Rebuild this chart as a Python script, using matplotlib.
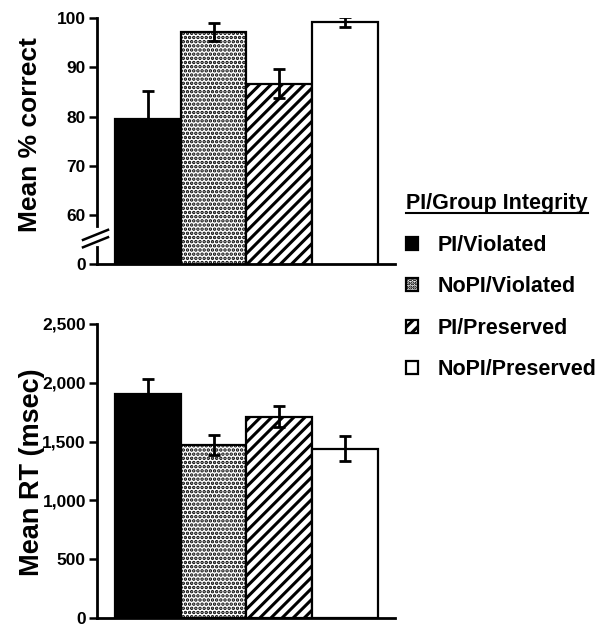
import matplotlib
matplotlib.use("Agg")
import matplotlib.pyplot as plt
from matplotlib.lines import Line2D

# ---- data ----
groups = ["PI/Violated", "NoPI/Violated", "PI/Preserved", "NoPI/Preserved"]
accuracy = [79.5, 97.2, 86.7, 99.3]
accuracy_err = [5.8, 1.8, 2.9, 1.0]
rt = [1906, 1468, 1711, 1440]
rt_err = [130, 85, 90, 105]
acc_ticks = [50, 60, 70, 80, 90, 100]
acc_ticklabels = ["0", "60", "70", "80", "90", "100"]
rt_ticks = [0, 500, 1000, 1500, 2000, 2500]
rt_ticklabels = ["0", "500", "1,000", "1,500", "2,000", "2,500"]
legend_title = "PI/Group Integrity"

plt.rcParams["font.family"] = ["Liberation Sans", "DejaVu Sans"]
plt.rcParams["font.weight"] = "bold"
plt.rcParams["hatch.linewidth"] = 2.2

W, H = 604, 625
fig = plt.figure(figsize=(W / 100, H / 100), dpi=100)

faces = ["black", "white", "white", "white"]
hatches = [None, "....", "///", None]
hatch_lw = [None, 1.7, 2.2, None]

def px_ax(x0, y_top, x1, y_bot):
    return [x0 / W, 1 - y_bot / H, (x1 - x0) / W, (y_bot - y_top) / H]

ax1 = fig.add_axes(px_ax(97, 18.3, 395, 264))
ax2 = fig.add_axes(px_ax(97, 324, 395, 618))

xpos = list(range(len(groups)))
xlim = (-0.774, 3.759)

def style(ax):
    for s in ["top", "right"]:
        ax.spines[s].set_visible(False)
    ax.spines["left"].set_linewidth(2)
    ax.spines["bottom"].set_linewidth(2)
    ax.tick_params(axis="y", length=6, width=1.8, labelsize=12.5, pad=2)
    ax.tick_params(axis="x", length=0, labelbottom=False)
    for t in ax.get_yticklabels():
        t.set_fontweight("bold")
    ax.set_xlim(*xlim)

def apply_hatch(bars):
    for b, h, lw in zip(bars, hatches, hatch_lw):
        if h:
            b.set_hatch(h)
            if hasattr(b, "set_hatch_linewidth"):
                b.set_hatch_linewidth(lw)

# top panel
bars1 = ax1.bar(xpos, accuracy, width=1.0, color=faces, edgecolor="black",
                linewidth=1.6)
apply_hatch(bars1)
ax1.errorbar(xpos, accuracy, yerr=accuracy_err, fmt="none", ecolor="black",
             elinewidth=2, capsize=4.5, capthick=2)
ax1.set_ylim(50, 100)
ax1.set_yticks(acc_ticks)
ax1.set_yticklabels(acc_ticklabels)
style(ax1)
ax1.spines["left"].set_visible(False)
# broken axis drawn manually
for (ya, yb) in [(0.0, 0.07), (0.155, 1.0)]:
    ax1.add_line(Line2D([0, 0], [ya, yb], transform=ax1.transAxes, color="black",
                        lw=2, clip_on=False))
for dy in [0.0, -0.03]:
    ax1.add_line(Line2D([-14 / 298, 11 / 298], [0.098 + dy, 0.139 + dy],
                        transform=ax1.transAxes, color="black", lw=1.8, clip_on=False))
ax1.set_ylabel("Mean % correct", fontsize=19, fontweight="bold")
ax1.yaxis.set_label_coords(-0.183, 0.525)

# bottom panel
bars2 = ax2.bar(xpos, rt, width=1.0, color=faces, edgecolor="black", linewidth=1.6)
apply_hatch(bars2)
ax2.errorbar(xpos, rt, yerr=rt_err, fmt="none", ecolor="black",
             elinewidth=2, capsize=4.5, capthick=2)
ax2.set_ylim(0, 2500)
ax2.set_yticks(rt_ticks)
ax2.set_yticklabels(rt_ticklabels)
style(ax2)
ax2.set_ylabel("Mean RT (msec)", fontsize=19.5, fontweight="bold")
ax2.yaxis.set_label_coords(-0.175, 0.495)

# legend
leg = fig.legend(handles=list(bars1), labels=groups, loc="upper left",
                 bbox_to_anchor=(406 / W, 1 - 235 / H), frameon=False,
                 fontsize=15.5, handlelength=0.56, handleheight=0.56,
                 handletextpad=0.93, labelspacing=0.95, borderpad=0,
                 borderaxespad=0)
for t in leg.get_texts():
    t.set_fontweight("bold")
ttl = fig.text(406 / W, 1 - 203 / H, legend_title, fontsize=15.5, fontweight="bold",
               ha="left", va="center")
fig.canvas.draw()
bb = ttl.get_window_extent()
fig.add_artist(Line2D([bb.x0 / W, bb.x1 / W], [1 - 213 / H, 1 - 213 / H],
                      transform=fig.transFigure, color="black", lw=1.5))

fig.savefig("out.png", dpi=100)
